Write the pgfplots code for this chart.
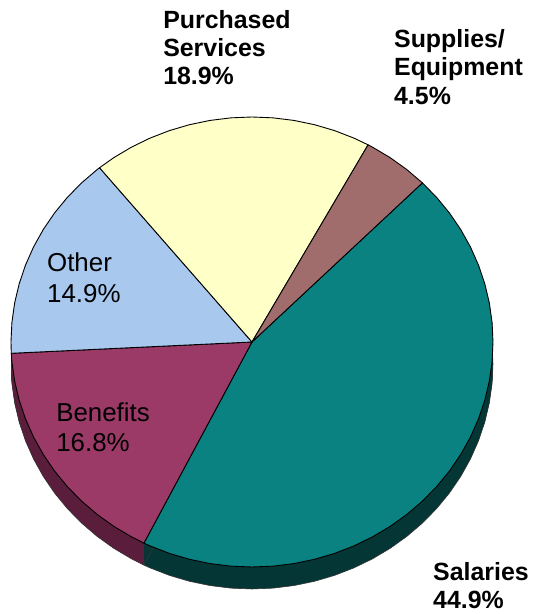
\documentclass[border=0pt]{standalone}
\usepackage{fontspec}
\setmainfont{Liberation Sans}
\usepackage{pgfplots}
\usepackage{pgfplotstable}
\pgfplotsset{compat=1.18}
\definecolor{salc}{HTML}{0B8282}
\definecolor{salw}{HTML}{053636}
\definecolor{supc}{HTML}{A06C6C}
\definecolor{purc}{HTML}{FFFFC8}
\definecolor{othc}{HTML}{A8C8EE}
\definecolor{benc}{HTML}{9B3A66}
\definecolor{benw}{HTML}{5A1E3C}
% slices: angle (deg) radius, counter-clockwise from 45 deg
\pgfplotstableread{
a r
0 0
45 1
50 1
55 1
60 1
61.2 1
}\supplies
\pgfplotstableread{
a r
0 0
61.2 1
65 1
70 1
75 1
80 1
85 1
90 1
95 1
100 1
105 1
110 1
115 1
120 1
125 1
129.24 1
}\purchased
\pgfplotstableread{
a r
0 0
129.24 1
130 1
135 1
140 1
145 1
150 1
155 1
160 1
165 1
170 1
175 1
180 1
182.88 1
}\other
\pgfplotstableread{
a r
0 0
182.88 1
185 1
190 1
195 1
200 1
205 1
210 1
215 1
220 1
225 1
230 1
235 1
240 1
243.36 1
}\benefits
\pgfplotstableread{
a r
0 0
243.36 1
245 1
250 1
255 1
260 1
265 1
270 1
275 1
280 1
285 1
290 1
295 1
300 1
305 1
310 1
315 1
320 1
325 1
330 1
335 1
340 1
345 1
350 1
355 1
360 1
365 1
370 1
375 1
380 1
385 1
390 1
395 1
400 1
405 1
}\salaries
\begin{document}
\begin{tikzpicture}
\begin{axis}[
  x=241bp, y=225bp,
  xmin=-1.0456, xmax=1.1701, ymin=-1.2089, ymax=1.52,
  hide axis, clip=false,
]
% side walls
\pgfplotsinvokeforeach{1,...,21}{
  \addplot[data cs=polar, draw=none, fill=benw, yshift=-#1bp, forget plot] table {\benefits} -- cycle;
}
\addplot[data cs=polar, draw=black!80, line width=0.6bp, fill=benw, yshift=-22bp, forget plot] table {\benefits} -- cycle;
\pgfplotsinvokeforeach{1,...,21}{
  \addplot[data cs=polar, draw=none, fill=salw, yshift=-#1bp, forget plot] table {\salaries} -- cycle;
}
\addplot[data cs=polar, draw=black!80, line width=0.6bp, fill=salw, yshift=-22bp, forget plot] table {\salaries} -- cycle;
% top faces
\addplot[data cs=polar, draw=black, line width=0.9bp, fill=salc] table {\salaries} -- cycle;
\addplot[data cs=polar, draw=black, line width=0.9bp, fill=benc] table {\benefits} -- cycle;
\addplot[data cs=polar, draw=black, line width=0.9bp, fill=othc] table {\other} -- cycle;
\addplot[data cs=polar, draw=black, line width=0.9bp, fill=purc] table {\purchased} -- cycle;
\addplot[data cs=polar, draw=black, line width=0.9bp, fill=supc] table {\supplies} -- cycle;
% labels
\begin{scope}[every node/.style={inner sep=0pt, anchor=north west, align=left, font=\fontsize{26}{30.5}\selectfont}]
\node[font=\fontsize{25}{28.5}\selectfont\bfseries] at (axis cs:-0.369,1.476) {Purchased\\Services\\18.9\%};
\node[font=\fontsize{25}{28.5}\selectfont\bfseries] at (axis cs:0.589,1.391) {Supplies/\\Equipment\\4.5\%};
\node at (axis cs:-0.851,0.396) {Other\\14.9\%};
\node at (axis cs:-0.813,-0.267) {Benefits\\16.8\%};
\node[font=\fontsize{25}{28.5}\selectfont\bfseries] at (axis cs:0.751,-0.978) {Salaries\\44.9\%};
\end{scope}
\end{axis}
\pgfresetboundingbox
\useasboundingbox (current axis.south west) rectangle (current axis.north east);
\end{tikzpicture}
\end{document}
